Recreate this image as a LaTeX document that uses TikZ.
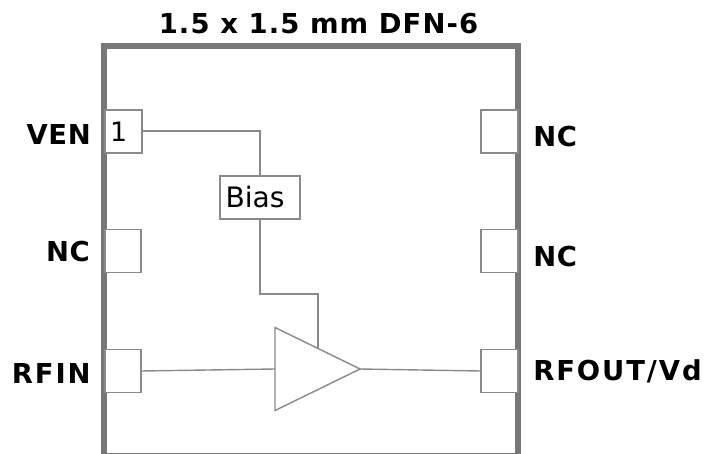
\documentclass[tikz,border=0pt]{standalone}
\usepackage{fontspec}
\setmainfont{DejaVu Sans}
\usetikzlibrary{shapes.geometric}

\definecolor{framegray}{HTML}{777777}
\definecolor{linegray}{HTML}{8A8A8A}

\tikzset{
    pinbox/.style={draw=linegray,line width=1pt,fill=white,outer sep=0pt,inner sep=0pt,
        minimum width=0.925cm,minimum height=1.075cm},
    biasbox/.style={draw=linegray,line width=1pt,fill=white,outer sep=0pt,inner sep=0pt,
        minimum width=2cm,minimum height=1.075cm,font=\fontsize{20}{20}\selectfont},
    pinlabel/.style={inner sep=0pt,text height=14pt,text depth=0pt,
        font=\fontsize{19.5}{20}\selectfont\bfseries\addfontfeature{LetterSpace=#1}},
    pinlabel/.default=4.5,
    trace/.style={draw=linegray,line width=1pt}
}

\begin{document}
\begin{tikzpicture}[x=0.025cm,y=-0.025cm]
    \useasboundingbox (0,0) rectangle (705,454);
    \clip (0,0) rectangle (705,454);

    % Package outline
    \draw [framegray,line width=4.2pt] (104,46) rectangle (518,456);
    \node (title) at (318.5,24) [pinlabel=4] {1.5 x 1.5 mm DFN-6};

    % Left pins
    \node (pinvEN) at (123.5,131.5) [pinbox] {};
    \node (pinncA) at (123,251) [pinbox,minimum width=0.9cm] {};
    \node (pinrfin) at (123,371) [pinbox,minimum width=0.9cm] {};

    % Right pins
    \node (pinncB) at (499.5,131.5) [pinbox] {};
    \node (pinncC) at (499.5,251) [pinbox] {};
    \node (pinrfout) at (499.5,371) [pinbox] {};

    % Pin number
    \node (pinone) at (118.5,132) [inner sep=0pt,font=\fontsize{19}{19}\selectfont] {1};

    % Pin names
    \node (venlabel) at (91,134.5) [pinlabel=2,left] {VEN};
    \node (nclabelA) at (90,251.5) [pinlabel=2,left] {NC};
    \node (rfinlabel) at (91,373.5) [pinlabel=7,left] {RFIN};
    \node (nclabelB) at (533,136.5) [pinlabel=2,right] {NC};
    \node (nclabelC) at (533,256.5) [pinlabel=2,right] {NC};
    \node (rfoutlabel) at (533,371) [pinlabel=7,right] {RFOUT/Vd};

    % Bias block
    \node (bias) at (260,197.5) [biasbox] {Bias\kern0.25cm};

    % Amplifier
    \node (amp) at (275,369) [anchor=lower side,draw=linegray,line width=1pt,fill=white,
        isosceles triangle,isosceles triangle apex angle=52,inner sep=0pt,outer sep=0pt,
        minimum height=2.125cm,minimum width=2.075cm] {};

    % Traces
    \coordinate (tap) at (318,294);
    \coordinate (ampbias) at (318,348);
    \draw [trace] (pinvEN.east |- 0,131) -| (bias.north);
    \draw [trace] (bias.south) |- (tap) -- (ampbias);
    \draw [trace] (pinrfin.east) -- (amp.lower side);
    \draw [trace] (amp.apex) -- (pinrfout.west);
\end{tikzpicture}
\end{document}
